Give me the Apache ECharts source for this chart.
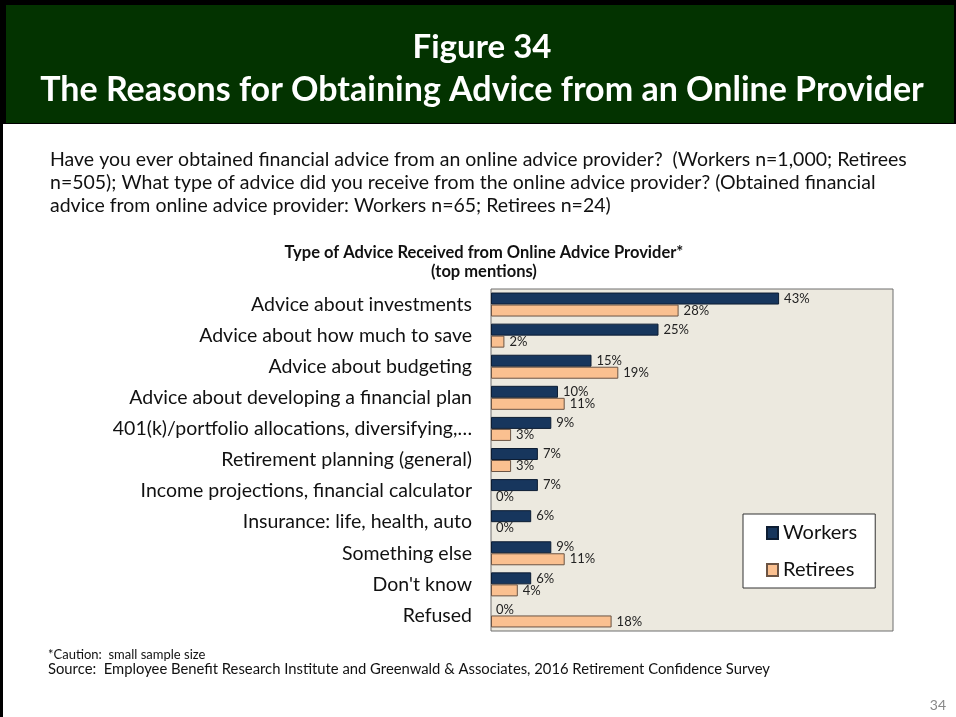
<!DOCTYPE html>
<html>
<head>
<meta charset="utf-8">
<script src="https://cdn.jsdelivr.net/npm/echarts@6/dist/echarts.min.js"></script>
<style>
  html, body { margin: 0; padding: 0; background: #fff; }
  #chart { width: 956px; height: 717px; }
</style>
</head>
<body>
<div id="chart"></div>
<script>
// categories, top to bottom
const categories = [
  "Advice about investments",
  "Advice about how much to save",
  "Advice about budgeting",
  "Advice about developing a financial plan",
  "401(k)/portfolio allocations, diversifying,…",
  "Retirement planning (general)",
  "Income projections, financial calculator",
  "Insurance: life, health, auto",
  "Something else",
  "Don't know",
  "Refused"
];
const workers = [43, 25, 15, 10, 9, 7, 7, 6, 9, 6, 0];
const retirees = [28, 2, 19, 11, 3, 3, 0, 0, 11, 4, 18];
const seriesNames = ["Workers", "Retirees"];

const FONT = "Lato, 'Open Sans', sans-serif";
const myChart = echarts.init(document.getElementById("chart"));

const labelOpt = {
  show: true,
  position: "right",
  distance: 5,
  formatter: "{c}%",
  color: "#222",
  fontSize: 13,
  fontFamily: FONT
};

// zero bars draw nothing, only their label
const toBars = (arr) =>
  arr.map((v) => (v === 0 ? { value: v, itemStyle: { borderWidth: 0 } } : v));

const options = {
  animation: false,
  textStyle: { fontFamily: FONT },
  grid: {
    left: 491,
    top: 289,
    width: 402,
    height: 342,
    show: true,
    backgroundColor: "#ECE9DF",
    borderColor: "#6f6f6f",
    borderWidth: 1
  },
  xAxis: {
    type: "value",
    min: 0,
    max: 60,
    show: false,
    splitLine: { show: false }
  },
  yAxis: {
    type: "category",
    data: categories,
    inverse: true,
    axisLine: { show: false },
    axisTick: { show: false },
    axisLabel: {
      color: "#111",
      fontSize: 19.5,
      fontFamily: FONT,
      margin: 19
    }
  },
  legend: {
    data: seriesNames,
    orient: "vertical",
    left: 743,
    top: 514,
    padding: [9, 18, 8, 23],
    itemGap: 17,
    itemWidth: 11,
    itemHeight: 12,
    icon: "rect",
    backgroundColor: "#fff",
    borderColor: "#333",
    borderWidth: 1,
    textStyle: { fontSize: 20, color: "#111", fontFamily: FONT }
  },
  series: [
    {
      name: seriesNames[0],
      type: "bar",
      data: toBars(workers),
      barWidth: 12,
      barGap: "0%",
      itemStyle: { color: "#17365D", borderColor: "#0d1d33", borderWidth: 1 },
      label: labelOpt
    },
    {
      name: seriesNames[1],
      type: "bar",
      data: toBars(retirees),
      barWidth: 12,
      itemStyle: { color: "#FAC090", borderColor: "#6b5444", borderWidth: 1 },
      label: labelOpt
    }
  ],
  graphic: [
    // slide frame
    { type: "rect", shape: { x: 0, y: 0, width: 3, height: 717 }, style: { fill: "#000" } },
    { type: "rect", shape: { x: 0, y: 0, width: 956, height: 124 }, style: { fill: "#000" } },
    { type: "rect", shape: { x: 6, y: 5, width: 948, height: 118 }, style: { fill: "#033300" } },
    {
      type: "text", x: 482, y: 47,
      style: { text: "Figure 34", fill: "#fff", font: "bold 33px " + FONT, align: "center", verticalAlign: "middle" }
    },
    {
      type: "text", x: 482, y: 90,
      style: { text: "The Reasons for Obtaining Advice from an Online Provider", fill: "#fff", font: "bold 34px " + FONT, align: "center", verticalAlign: "middle" }
    },
    {
      type: "text", x: 50, y: 148,
      style: {
        text: "Have you ever obtained financial advice from an online advice provider?  (Workers n=1,000; Retirees\nn=505); What type of advice did you receive from the online advice provider? (Obtained financial\nadvice from online advice provider: Workers n=65; Retirees n=24)",
        fill: "#111", font: "19.5px " + FONT, lineHeight: 23
      }
    },
    {
      type: "text", x: 484, y: 243,
      style: {
        text: "Type of Advice Received from Online Advice Provider*\n(top mentions)",
        fill: "#111", font: "bold 16.5px " + FONT, align: "center", lineHeight: 19
      }
    },
    {
      type: "text", x: 48, y: 648,
      style: { text: "*Caution:  small sample size", fill: "#111", font: "13px " + FONT }
    },
    {
      type: "text", x: 48, y: 662,
      style: { text: "Source:  Employee Benefit Research Institute and Greenwald & Associates, 2016 Retirement Confidence Survey", fill: "#111", font: "14.8px " + FONT }
    },
    {
      type: "text", x: 946, y: 705,
      style: { text: "34", fill: "#888", font: "14px " + FONT, align: "right", verticalAlign: "middle" }
    }
  ]
};

myChart.setOption(options);
</script>
</body>
</html>
